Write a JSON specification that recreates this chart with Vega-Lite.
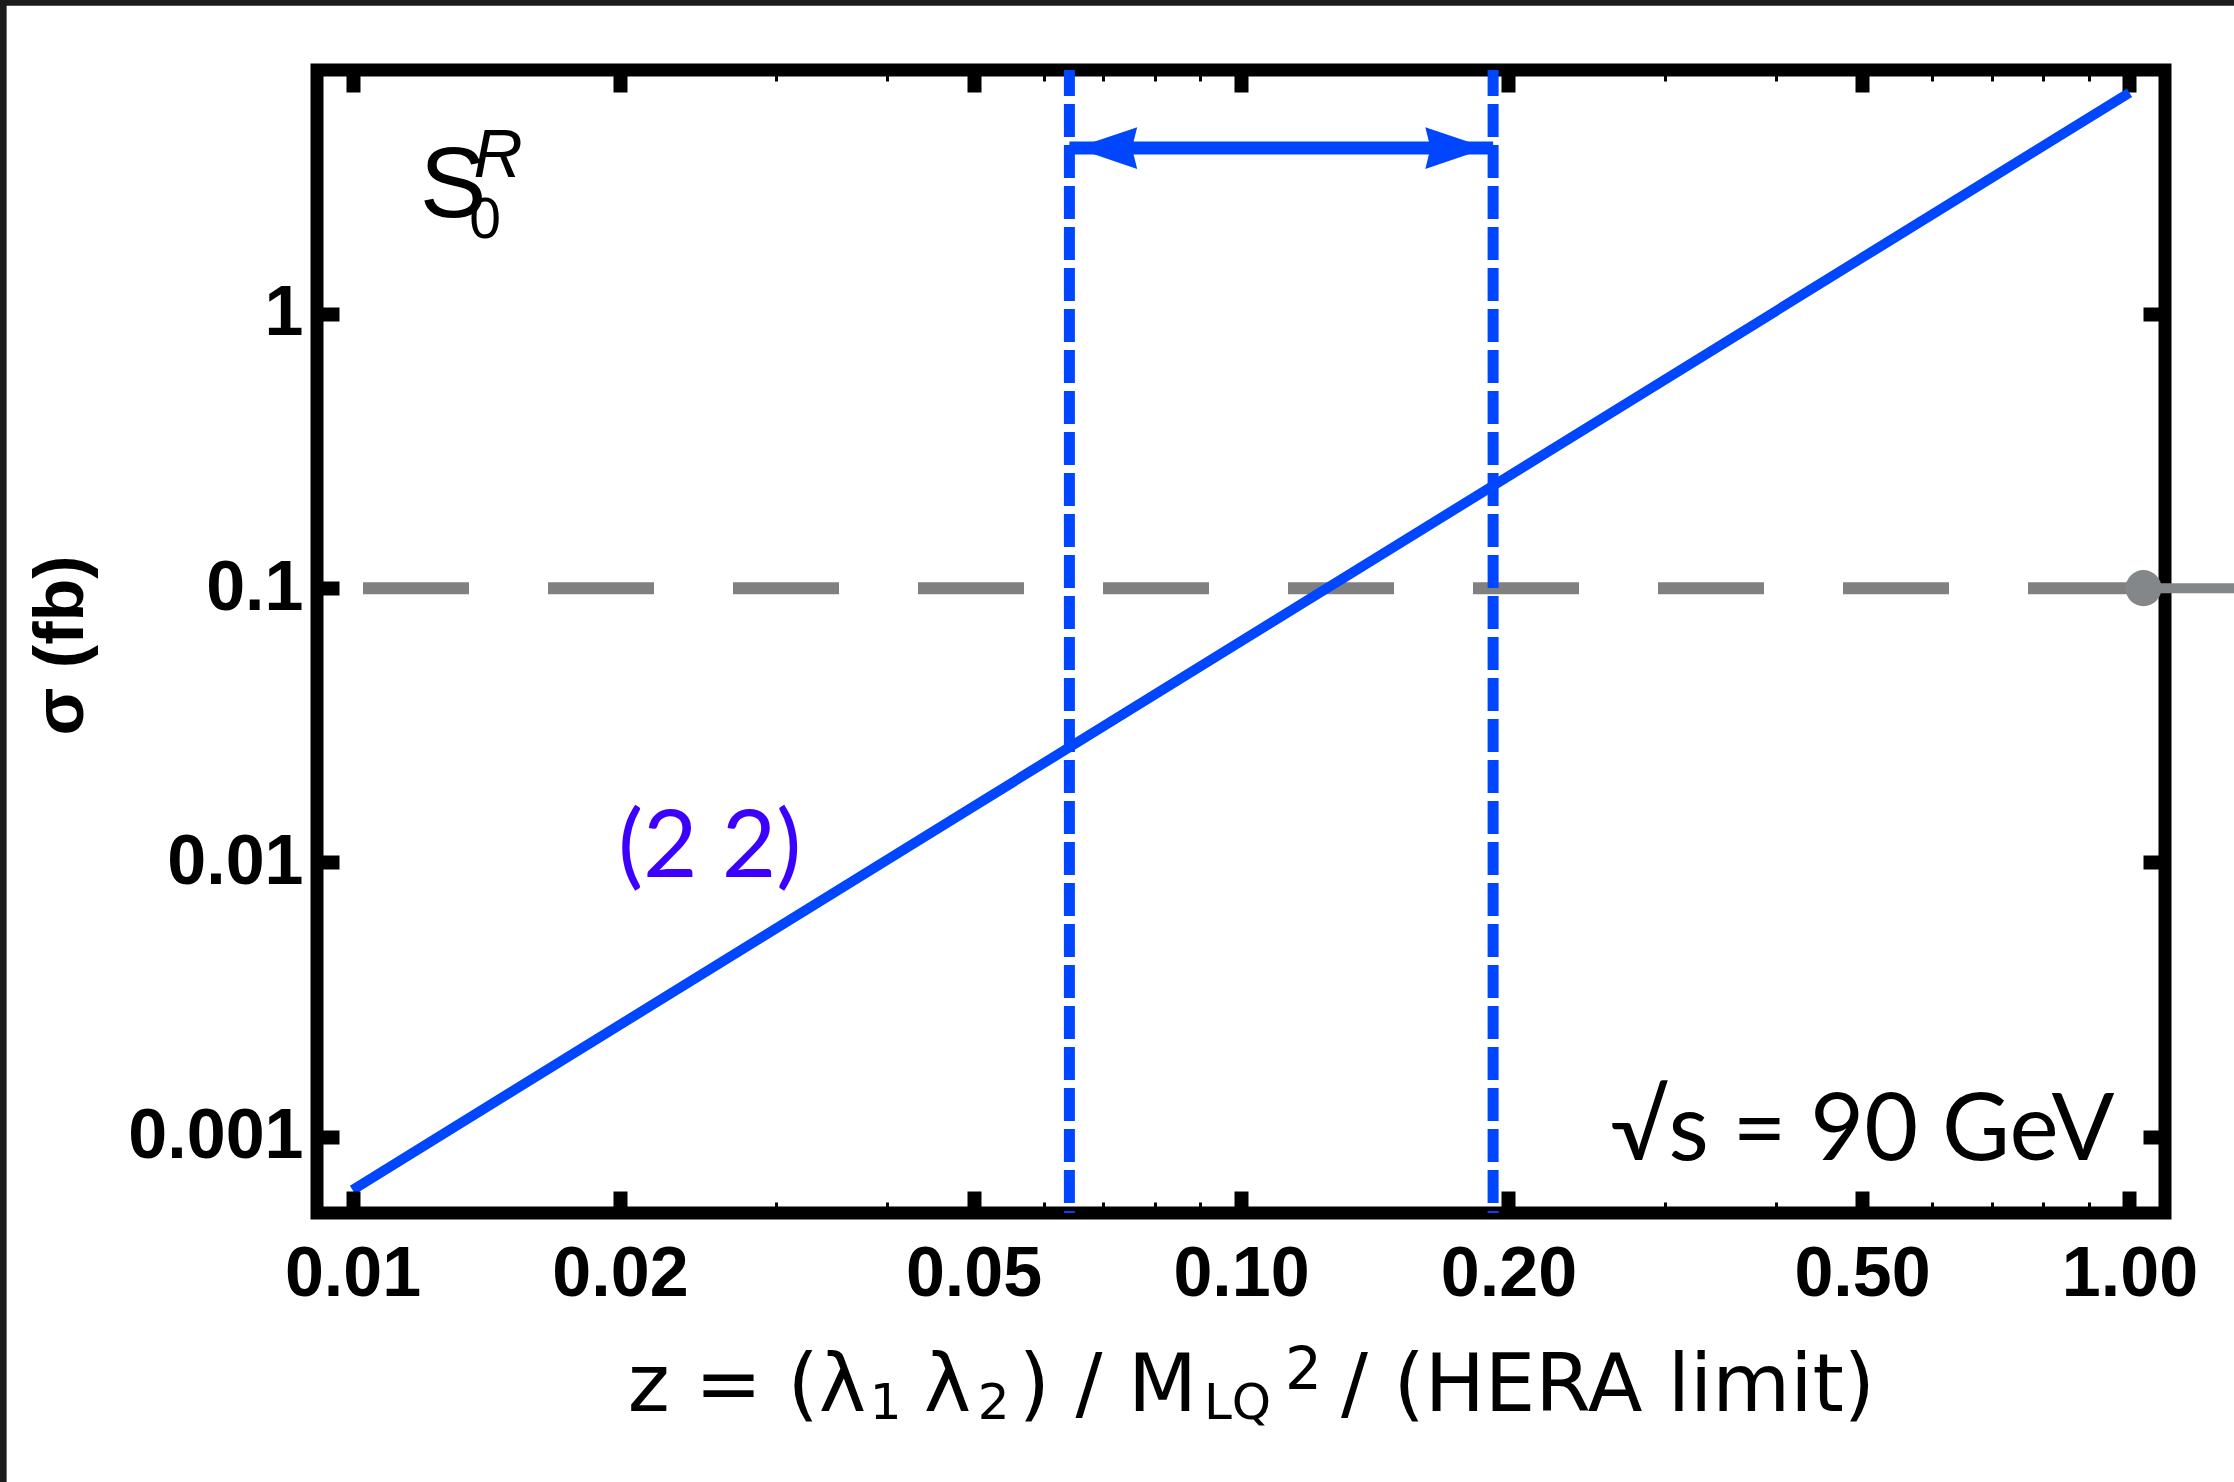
{
  "$schema": "https://vega.github.io/schema/vega-lite/v6.json",
  "width": 1848,
  "height": 1143,
  "autosize": {"type": "none"},
  "padding": {"left": 317, "top": 70, "right": 69, "bottom": 269},
  "background": "white",
  "config": {"view": {"stroke": "black", "strokeWidth": 13}},
  "resolve": {"axis": {"x": "independent", "y": "independent"}},
  "layer": [
    {
      "data": {"values": [{"x1": 0.001, "x2": 10, "y1": 100, "y2": 13.28}, {"x1": 0.001, "x2": 0.00408, "y1": 100, "y2": 0.0000001}]},
      "mark": {"type": "rect", "color": "#1c1c1c"},
      "encoding": {
        "x": {"field": "x1", "type": "quantitative", "scale": {"type": "log", "domain": [0.0091201, 1.0964782], "nice": false}, "axis": null},
        "x2": {"field": "x2"},
        "y": {"field": "y1", "type": "quantitative", "scale": {"type": "log", "domain": [0.0005272, 7.745], "nice": false}, "axis": null},
        "y2": {"field": "y2"}
      }
    },
    {
      "data": {"values": [{"sigma": 0.1}]},
      "mark": {"type": "rule", "color": "#808080", "strokeWidth": 12, "strokeDash": [106, 79], "strokeDashOffset": 154},
      "encoding": {
        "y": {"field": "sigma", "type": "quantitative", "scale": {"type": "log", "domain": [0.0005272, 7.745], "nice": false}, "axis": null}
      }
    },
    {
      "data": {"values": [{"z": 0.0641}, {"z": 0.1922}]},
      "mark": {"type": "rule", "color": "#0046ff", "strokeWidth": 11, "strokeDash": [33, 8], "strokeDashOffset": 7},
      "encoding": {
        "x": {"field": "z", "type": "quantitative", "scale": {"type": "log", "domain": [0.0091201, 1.0964782], "nice": false}, "axis": null}
      }
    },
    {
      "data": {"values": [{"z1": 0.0641, "z2": 0.1922, "sigma": 4.02}]},
      "mark": {"type": "rule", "color": "#0046ff", "strokeWidth": 13},
      "encoding": {
        "x": {"field": "z1", "type": "quantitative", "scale": {"type": "log", "domain": [0.0091201, 1.0964782], "nice": false}, "axis": null},
        "x2": {"field": "z2"},
        "y": {"field": "sigma", "type": "quantitative", "scale": {"type": "log", "domain": [0.0005272, 7.745], "nice": false}, "axis": null}
      }
    },
    {
      "data": {"values": [{"z": 0.0641, "sigma": 4.02}]},
      "mark": {"type": "point", "filled": true, "opacity": 1, "color": "#0046ff", "size": 3800, "shape": "M 0.2 0 L 2.2 -0.68 L 2.03 0 L 2.2 0.68 Z"},
      "encoding": {
        "x": {"field": "z", "type": "quantitative", "scale": {"type": "log", "domain": [0.0091201, 1.0964782], "nice": false}, "axis": null},
        "y": {"field": "sigma", "type": "quantitative", "scale": {"type": "log", "domain": [0.0005272, 7.745], "nice": false}, "axis": null}
      }
    },
    {
      "data": {"values": [{"z": 0.1922, "sigma": 4.02}]},
      "mark": {"type": "point", "filled": true, "opacity": 1, "color": "#0046ff", "size": 3800, "shape": "M -0.2 0 L -2.2 -0.68 L -2.03 0 L -2.2 0.68 Z"},
      "encoding": {
        "x": {"field": "z", "type": "quantitative", "scale": {"type": "log", "domain": [0.0091201, 1.0964782], "nice": false}, "axis": null},
        "y": {"field": "sigma", "type": "quantitative", "scale": {"type": "log", "domain": [0.0005272, 7.745], "nice": false}, "axis": null}
      }
    },
    {
      "data": {"values": [
        {"z": 0.01, "sigma": 0.00064},
        {"z": 0.02, "sigma": 0.00256},
        {"z": 0.05, "sigma": 0.016},
        {"z": 0.1, "sigma": 0.064},
        {"z": 0.2, "sigma": 0.256},
        {"z": 0.5, "sigma": 1.6},
        {"z": 1, "sigma": 6.4}
      ]},
      "mark": {"type": "line", "color": "#0046ff", "strokeWidth": 10, "clip": true},
      "encoding": {
        "x": {
          "field": "z", "type": "quantitative",
          "scale": {"type": "log", "domain": [0.0091201, 1.0964782], "nice": false},
          "axis": {
            "orient": "bottom",
            "values": [0.01, 0.02, 0.03, 0.04, 0.05, 0.06, 0.07, 0.08, 0.09, 0.1, 0.2, 0.3, 0.4, 0.5, 0.6, 0.7, 0.8, 0.9, 1],
            "labelExpr": "indexof([0.01, 0.02, 0.05, 0.1, 0.2, 0.5, 1], datum.value) >= 0 ? format(datum.value, '.2f') : ''",
            "tickSize": {"condition": {"test": "indexof([0.01, 0.02, 0.05, 0.1, 0.2, 0.5, 1], datum.value) >= 0", "value": -22}, "value": -11},
            "tickWidth": {"condition": {"test": "indexof([0.01, 0.02, 0.05, 0.1, 0.2, 0.5, 1], datum.value) >= 0", "value": 14}, "value": 3},
            "tickColor": "black",
            "domain": false,
            "grid": false,
            "labelFont": "Liberation Sans",
            "labelFontWeight": "bold",
            "labelFontSize": 70,
            "labelColor": "black",
            "labelBaseline": "alphabetic",
            "labelPadding": 104,
            "labelFlush": false,
            "labelOverlap": false,
            "title": null,
            "zindex": 1
          }
        },
        "y": {
          "field": "sigma", "type": "quantitative",
          "scale": {"type": "log", "domain": [0.0005272, 7.745], "nice": false},
          "axis": {
            "orient": "left",
            "values": [0.001, 0.01, 0.1, 1],
            "labelExpr": "format(datum.value, '~g')",
            "tickSize": -22,
            "tickWidth": 14,
            "tickColor": "black",
            "domain": false,
            "grid": false,
            "labelFont": "Liberation Sans",
            "labelFontWeight": "bold",
            "labelFontSize": 70,
            "labelColor": "black",
            "labelAlign": "right",
            "labelBaseline": "middle",
            "labelPadding": 36,
            "labelFlush": false,
            "labelOverlap": false,
            "title": "σ (fb)",
            "titleFont": "Liberation Sans",
            "titleFontWeight": "bold",
            "titleFontSize": 70,
            "titleColor": "black",
            "titleAngle": 270,
            "titleAlign": "center",
            "titleBaseline": "alphabetic",
            "titleX": -235,
            "titleY": 575,
            "zindex": 1
          }
        }
      }
    },
    {
      "data": {"values": [{"z1": 1.037, "z2": 1.4, "sigma": 0.1}]},
      "mark": {"type": "rule", "color": "#84878a", "strokeWidth": 10},
      "encoding": {
        "x": {"field": "z1", "type": "quantitative", "scale": {"type": "log", "domain": [0.0091201, 1.0964782], "nice": false}, "axis": null},
        "x2": {"field": "z2"},
        "y": {"field": "sigma", "type": "quantitative", "scale": {"type": "log", "domain": [0.0005272, 7.745], "nice": false}, "axis": null}
      }
    },
    {
      "data": {"values": [{"z": 1.037, "sigma": 0.1}]},
      "mark": {"type": "point", "shape": "circle", "filled": true, "opacity": 1, "color": "#84878a", "size": 1300},
      "encoding": {
        "x": {
          "field": "z", "type": "quantitative",
          "scale": {"type": "log", "domain": [0.0091201, 1.0964782], "nice": false},
          "axis": {
            "orient": "top",
            "values": [0.01, 0.02, 0.03, 0.04, 0.05, 0.06, 0.07, 0.08, 0.09, 0.1, 0.2, 0.3, 0.4, 0.5, 0.6, 0.7, 0.8, 0.9, 1],
            "labels": false,
            "tickSize": {"condition": {"test": "indexof([0.01, 0.02, 0.05, 0.1, 0.2, 0.5, 1], datum.value) >= 0", "value": -22}, "value": -11},
            "tickWidth": {"condition": {"test": "indexof([0.01, 0.02, 0.05, 0.1, 0.2, 0.5, 1], datum.value) >= 0", "value": 14}, "value": 3},
            "tickColor": "black",
            "domain": false,
            "grid": false,
            "title": null,
            "zindex": 0
          }
        },
        "y": {
          "field": "sigma", "type": "quantitative",
          "scale": {"type": "log", "domain": [0.0005272, 7.745], "nice": false},
          "axis": {
            "orient": "right",
            "values": [0.001, 0.01, 0.1, 1],
            "labels": false,
            "tickSize": -22,
            "tickWidth": 14,
            "tickColor": "black",
            "domain": false,
            "grid": false,
            "title": null,
            "zindex": 0
          }
        }
      }
    },
    {
      "data": {"values": [{"text": "S", "z": 0.012978, "sigma": 2.258}]},
      "mark": {"type": "text", "font": "Liberation Sans", "fontSize": 100, "color": "black", "align": "center", "baseline": "alphabetic"},
      "encoding": {
        "x": {"field": "z", "type": "quantitative", "scale": {"type": "log", "domain": [0.0091201, 1.0964782], "nice": false}, "axis": null},
        "y": {"field": "sigma", "type": "quantitative", "scale": {"type": "log", "domain": [0.0005272, 7.745], "nice": false}, "axis": null},
        "text": {"field": "text"}
      }
    },
    {
      "data": {"values": [{"text": "0", "z": 0.0141, "sigma": 1.893}]},
      "mark": {"type": "text", "font": "Liberation Sans", "fontSize": 57, "color": "black", "align": "center", "baseline": "alphabetic"},
      "encoding": {
        "x": {"field": "z", "type": "quantitative", "scale": {"type": "log", "domain": [0.0091201, 1.0964782], "nice": false}, "axis": null},
        "y": {"field": "sigma", "type": "quantitative", "scale": {"type": "log", "domain": [0.0005272, 7.745], "nice": false}, "axis": null},
        "text": {"field": "text"}
      }
    },
    {
      "data": {"values": [{"text": "R", "z": 0.014585, "sigma": 3.16}]},
      "mark": {"type": "text", "font": "Liberation Sans", "fontStyle": "italic", "fontSize": 68, "color": "black", "align": "center", "baseline": "alphabetic"},
      "encoding": {
        "x": {"field": "z", "type": "quantitative", "scale": {"type": "log", "domain": [0.0091201, 1.0964782], "nice": false}, "axis": null},
        "y": {"field": "sigma", "type": "quantitative", "scale": {"type": "log", "domain": [0.0005272, 7.745], "nice": false}, "axis": null},
        "text": {"field": "text"}
      }
    },
    {
      "data": {"values": [{"text": "(2 2)", "z": 0.02523, "sigma": 0.00885}]},
      "mark": {"type": "text", "font": "Lato", "fontSize": 94, "color": "#3c00ff", "align": "center", "baseline": "alphabetic"},
      "encoding": {
        "x": {"field": "z", "type": "quantitative", "scale": {"type": "log", "domain": [0.0091201, 1.0964782], "nice": false}, "axis": null},
        "y": {"field": "sigma", "type": "quantitative", "scale": {"type": "log", "domain": [0.0005272, 7.745], "nice": false}, "axis": null},
        "text": {"field": "text"}
      }
    },
    {
      "data": {"values": [{"text": "√s = 90 GeV", "z": 0.9619, "sigma": 0.000821}]},
      "mark": {"type": "text", "font": "Lato", "fontSize": 93, "color": "black", "align": "right", "baseline": "alphabetic"},
      "encoding": {
        "x": {"field": "z", "type": "quantitative", "scale": {"type": "log", "domain": [0.0091201, 1.0964782], "nice": false}, "axis": null},
        "y": {"field": "sigma", "type": "quantitative", "scale": {"type": "log", "domain": [0.0005272, 7.745], "nice": false}, "axis": null},
        "text": {"field": "text"}
      }
    },
    {
      "data": {"values": [
        {"text": "z = (λ", "z": 0.0204, "sigma": 0.0001},
        {"text": "λ", "z": 0.04395, "sigma": 0.0001},
        {"text": ") / M", "z": 0.05623, "sigma": 0.0001},
        {"text": "/ (HERA limit)", "z": 0.1296, "sigma": 0.0001}
      ]},
      "mark": {"type": "text", "font": "DejaVu Sans", "fontSize": 80, "color": "black", "align": "left", "baseline": "alphabetic"},
      "encoding": {
        "x": {"field": "z", "type": "quantitative", "scale": {"type": "log", "domain": [0.0091201, 1.0964782], "nice": false}, "axis": null},
        "y": {"field": "sigma", "type": "quantitative", "scale": {"type": "log", "domain": [0.0005272, 7.745], "nice": false}, "axis": null},
        "text": {"field": "text"}
      }
    },
    {
      "data": {"values": [
        {"text": "1", "z": 0.03821, "sigma": 0.0000933},
        {"text": "2", "z": 0.05056, "sigma": 0.0000933},
        {"text": "LQ", "z": 0.09085, "sigma": 0.0000933}
      ]},
      "mark": {"type": "text", "font": "DejaVu Sans", "fontSize": 50, "color": "black", "align": "left", "baseline": "alphabetic"},
      "encoding": {
        "x": {"field": "z", "type": "quantitative", "scale": {"type": "log", "domain": [0.0091201, 1.0964782], "nice": false}, "axis": null},
        "y": {"field": "sigma", "type": "quantitative", "scale": {"type": "log", "domain": [0.0005272, 7.745], "nice": false}, "axis": null},
        "text": {"field": "text"}
      }
    },
    {
      "data": {"values": [{"text": "2", "z": 0.1121, "sigma": 0.0001201}]},
      "mark": {"type": "text", "font": "DejaVu Sans", "fontSize": 58, "color": "black", "align": "left", "baseline": "alphabetic"},
      "encoding": {
        "x": {"field": "z", "type": "quantitative", "scale": {"type": "log", "domain": [0.0091201, 1.0964782], "nice": false}, "axis": null},
        "y": {"field": "sigma", "type": "quantitative", "scale": {"type": "log", "domain": [0.0005272, 7.745], "nice": false}, "axis": null},
        "text": {"field": "text"}
      }
    }
  ]
}
